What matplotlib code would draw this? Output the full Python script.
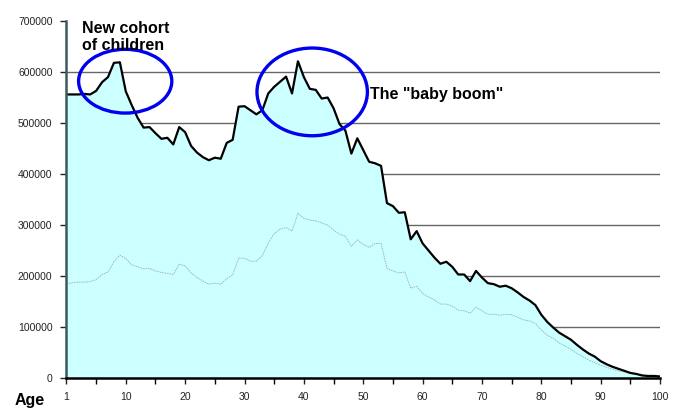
import matplotlib
matplotlib.use("Agg")
import matplotlib.pyplot as plt
from matplotlib.patches import Ellipse
import numpy as np

plt.rcParams['font.family'] = ['Liberation Sans', 'DejaVu Sans']

# ages 0..100 (x axis labelled 1, 10, 20 ... 100)
ages = np.arange(0, 101)

# total population by single year of age
population = [
    556, 556, 556, 557, 556, 563, 580, 590, 618, 619,
    562, 535, 510, 491, 492, 480, 469, 471, 458, 492,
    482, 455, 442, 433, 427, 432, 430, 461, 467, 532,
    533, 525, 517, 525, 558, 571, 581, 591, 558, 621,
    590, 567, 565, 548, 550, 529, 498, 485, 440, 470,
    447, 424, 421, 416, 343, 337, 324, 325, 272, 288,
    264, 250, 236, 224, 228, 218, 203, 203, 190, 210,
    197, 186, 184, 179, 181, 176, 168, 159, 152, 143,
    124, 110, 99, 89, 82, 75, 65, 56, 48, 42,
    33, 27, 22, 18, 14, 10, 8, 5, 4, 4,
    3,
]

# lower (thin) series
sub_population = [
    184, 187, 188, 188, 189, 193, 203, 208, 228, 241,
    234, 222, 218, 214, 215, 210, 207, 205, 203, 223,
    220, 206, 197, 190, 184, 186, 184, 195, 202, 235,
    235, 229, 229, 240, 265, 283, 292, 295, 288, 323,
    313, 310, 308, 304, 300, 290, 282, 278, 258, 271,
    262, 256, 264, 264, 215, 210, 206, 208, 176, 180,
    166, 159, 153, 145, 145, 141, 133, 132, 127, 139,
    132, 125, 125, 123, 125, 124, 119, 114, 112, 107,
    94, 84, 78, 69, 63, 56, 48, 42, 35, 30,
    25, 21, 17, 14, 12, 9, 7, 5, 3, 3,
    2,
]

population = np.array(population) * 1000
sub_population = np.array(sub_population) * 1000

xtick_pos = list(range(0, 101, 10))
xtick_labels = ['1'] + [str(v) for v in range(10, 101, 10)]
yticks = list(range(0, 700001, 100000))

fig = plt.figure(figsize=(6.78, 4.08), dpi=100)
ax = fig.add_axes([0.098, 0.0735, 0.8755, 0.875])

# grid behind the filled area
for v in yticks[1:-1]:
    ax.axhline(v, color='#666666', lw=1.0, zorder=1)

ax.fill_between(ages, population, 0, color='#CCFFFF', lw=0, zorder=2)
ax.plot(ages, sub_population, color='#9DB0B4', lw=0.6, ls=(0, (2, 1)), zorder=3)
ax.plot(ages, population, color='black', lw=1.6, zorder=4)

ax.set_xlim(0, 100)
ax.set_ylim(0, 700000)
ax.set_xticks(xtick_pos)
ax.set_xticklabels(xtick_labels)
ax.set_xticks(range(5, 100, 10), minor=True)
ax.set_yticks(yticks)
ax.set_yticklabels([str(v) for v in yticks])

ax.tick_params(axis='both', labelsize=7.5, colors='#222222', length=4, width=1, pad=6)
ax.tick_params(axis='x', which='minor', length=4, width=1)

for s in ['top', 'right']:
    ax.spines[s].set_visible(False)
ax.spines['left'].set_color('#3C5A5A')
ax.spines['left'].set_linewidth(1.8)
ax.spines['bottom'].set_color('black')
ax.spines['bottom'].set_linewidth(1.8)
ax.spines['left'].set_zorder(5)
ax.spines['bottom'].set_zorder(5)

# highlight circles
ax.add_patch(Ellipse((9.9, 582000), 15.7, 125000, fill=False, ec='#0000EE', lw=2.4,
                     zorder=6, clip_on=False))
ax.add_patch(Ellipse((41.4, 561000), 18.6, 172000, fill=False, ec='#0000EE', lw=2.4,
                     zorder=6, clip_on=False))

ax.text(2.7, 700000, 'New cohort\nof children', fontsize=11.5, fontweight='bold',
        va='top', ha='left', linespacing=1.15, zorder=7)
ax.text(51.2, 555000, 'The "baby boom"', fontsize=11.5, fontweight='bold',
        va='center', ha='left', zorder=7)

fig.text(0.021, 0.0, 'Age', fontsize=11.5, fontweight='bold', ha='left', va='bottom')

# title, almost entirely cut off at the top edge (only descenders show)
fig.text(0.494, 1.018, 'Population by Age', fontsize=24, fontweight='bold',
         ha='center', va='baseline')

fig.savefig('out.png', dpi=100)
